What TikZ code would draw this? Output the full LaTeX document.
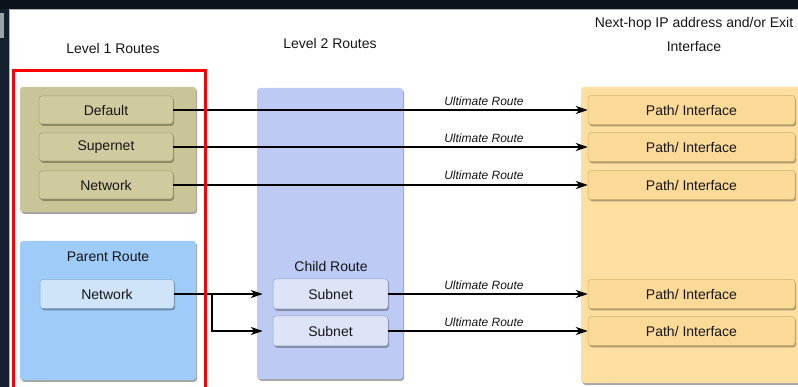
\documentclass[tikz,border=0pt]{standalone}
\usepackage{fontspec}
\setmainfont{Liberation Sans}
\usetikzlibrary{arrows.meta,shadows}

\definecolor{framedark}{HTML}{0B1219}
\definecolor{frameside}{HTML}{13202E}
\definecolor{framegrey}{HTML}{9AA3AD}
\definecolor{olivegrp}{HTML}{C9C597}
\definecolor{oliveitem}{HTML}{CFCB9F}
\definecolor{oliveedge}{HTML}{A29E72}
\definecolor{bluegrp}{HTML}{9ECBF7}
\definecolor{blueitem}{HTML}{CFE3F9}
\definecolor{blueedge}{HTML}{86A9CC}
\definecolor{lavgrp}{HTML}{BDCAF4}
\definecolor{lavitem}{HTML}{DEE4F8}
\definecolor{lavedge}{HTML}{98A3C6}
\definecolor{orangegrp}{HTML}{FCDFA1}
\definecolor{orangeitem}{HTML}{FBD996}
\definecolor{orangeedge}{HTML}{D2B070}
\definecolor{txt}{HTML}{161616}

\tikzset{
  grpbox/.style={rounded corners=3pt, inner sep=0pt,
    drop shadow={shadow xshift=1.2pt, shadow yshift=-1.8pt, fill=black, opacity=0.35}},
  itembox/.style={rounded corners=3pt, inner sep=0pt, text=txt,
    font=\fontsize{14}{16}\selectfont, line width=0.5pt,
    drop shadow={shadow xshift=1.2pt, shadow yshift=-1.8pt, fill=black, opacity=0.3}},
  olivebox/.style={itembox, fill=oliveitem, draw=oliveedge,
    minimum width=134pt, minimum height=28pt},
  netbox/.style={itembox, fill=blueitem, draw=blueedge,
    minimum width=134pt, minimum height=29pt},
  subbox/.style={itembox, fill=lavitem, draw=lavedge,
    minimum width=115pt, minimum height=30pt},
  pathbox/.style={itembox, fill=orangeitem, draw=orangeedge,
    minimum width=207pt, minimum height=29pt},
  heading/.style={text=txt, font=\fontsize{14}{24}\selectfont, align=center},
  routelbl/.style={text=txt, font=\fontsize{12}{13}\selectfont\itshape},
  conn/.style={line width=1.3pt, black,
    -{Stealth[length=12pt, width=8pt, inset=3.5pt]}},
  link/.style={line width=1.3pt, black},
}

\begin{document}
\begin{tikzpicture}[x=1pt, y=-1pt]
  \useasboundingbox (0,0) rectangle (798,387);

  % screen frame around the white panel
  \fill[white] (0,0) rectangle (798,387);
  \fill[framedark] (0,0) rectangle (798,9.5);
  \fill[frameside] (0,9.5) rectangle (9,387);
  \fill[framegrey] (0,13) rectangle (4,38);
  \draw[gray!60, line width=1pt] (9.5,387) -- (9.5,10) -- (798,10);

  % column headings
  \node[heading] (h1) at (113,48) {Level 1 Routes};
  \node[heading] (h2) at (330,43) {Level 2 Routes};
  \node[heading] (h3) at (694,34) {Next-hop IP address and/or Exit\\Interface};

  % group panels
  \node[grpbox, fill=olivegrp, minimum width=176pt, minimum height=125pt] (lvl1) at (108,149.5) {};
  \node[grpbox, fill=bluegrp, minimum width=176pt, minimum height=139pt] (parent) at (108,310.5) {};
  \node[grpbox, fill=lavgrp, minimum width=146pt, minimum height=291pt] (lvl2) at (330,233.5) {};
  \node[grpbox, fill=orangegrp, minimum width=222pt, minimum height=296pt] (nexthop) at (692,235) {};

  % level 1 routes
  \node[olivebox] (def) at (106,110) {Default};
  \node[olivebox] (sup) at (106,147) {Supernet};
  \node[olivebox] (net) at (106,185) {Network};

  % parent and child routes
  \node[heading] (ptitle) at (108,257) {Parent Route};
  \node[netbox] (pnet) at (107,294) {Network};
  \node[heading] (ctitle) at (331,266) {Child Route};
  \node[subbox] (sub1) at (330.5,294) {Subnet};
  \node[subbox] (sub2) at (330.5,331) {Subnet};

  % next-hop entries
  \node[pathbox] (p1) at (691.5,110) {Path/ Interface};
  \node[pathbox] (p2) at (691.5,147) {Path/ Interface};
  \node[pathbox] (p3) at (691.5,185) {Path/ Interface};
  \node[pathbox] (p4) at (691.5,294) {Path/ Interface};
  \node[pathbox] (p5) at (691.5,331) {Path/ Interface};

  % ultimate routes
  \draw[conn] (def.east) -- (p1.west);
  \draw[conn] (sup.east) -- (p2.west);
  \draw[conn] (net.east) -- (p3.west);
  \draw[conn] (sub1.east) -- (p4.west);
  \draw[conn] (sub2.east) -- (p5.west);
  \node[routelbl] (u1) at (484,101.5) {Ultimate Route};
  \node[routelbl] (u2) at (484,138.5) {Ultimate Route};
  \node[routelbl] (u3) at (484,175.5) {Ultimate Route};
  \node[routelbl] (u4) at (484,285) {Ultimate Route};
  \node[routelbl] (u5) at (484,322) {Ultimate Route};

  % parent route splitting into its subnets
  \coordinate (split) at (212,294);
  \draw[link] (pnet.east) -- (split);
  \draw[conn, shorten >=10pt] (split) -- (sub1.west);
  \draw[conn, shorten >=10pt] (split) |- (sub2.west);

  % highlight of the level 1 column
  \draw[red, line width=3pt] (13,395) -- (13,70.5) -- (205,70.5) -- (205,395);
\end{tikzpicture}
\end{document}
